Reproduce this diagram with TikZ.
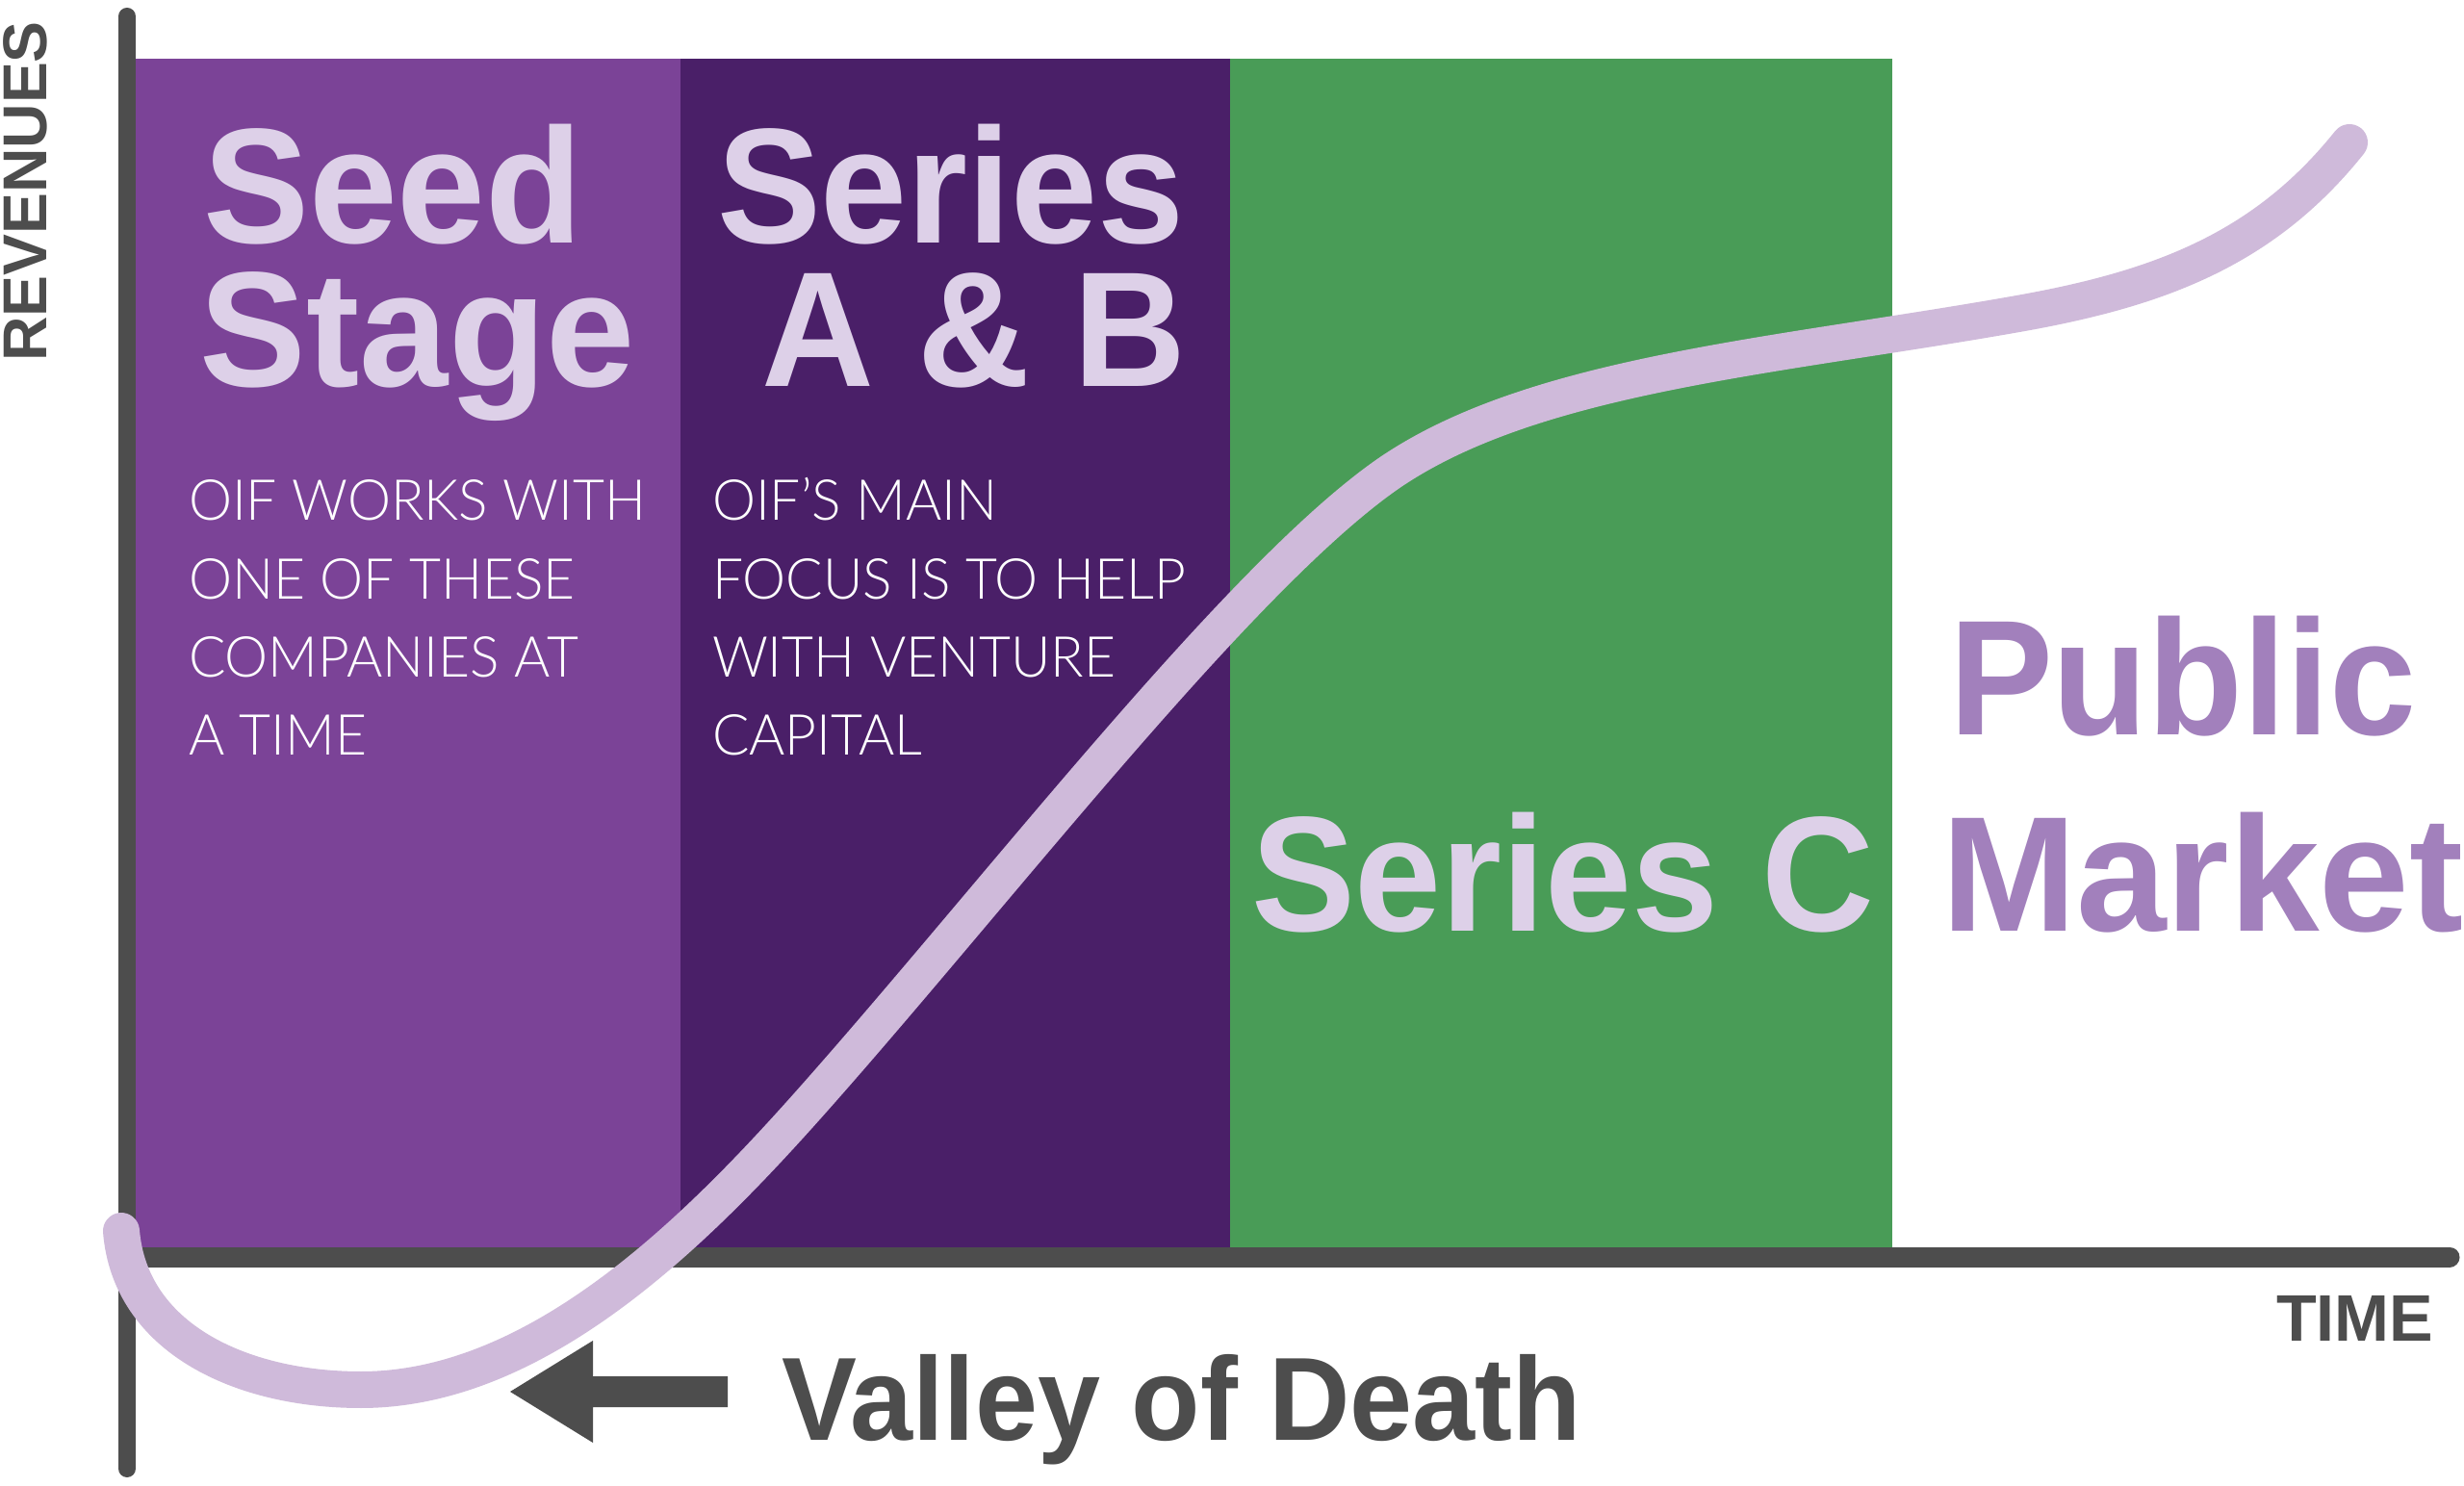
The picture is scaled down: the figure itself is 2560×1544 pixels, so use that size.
\documentclass[tikz,border=0pt]{standalone}
\usepackage{graphicx}
\usepackage{fontspec}
\setmainfont{Liberation Sans}
\newfontfamily\titlefont[FakeStretch=0.95]{Liberation Sans}
\IfFontExistsTF{Lato Light}
  {\newfontfamily\bodyfont[FakeStretch=0.97]{Lato Light}}
  {\newfontfamily\bodyfont[FakeStretch=0.92]{Liberation Sans}}
\newfontfamily\axisfont{Liberation Sans}
\definecolor{seedpurple}{HTML}{7B4397}
\definecolor{abpurple}{HTML}{4A1F68}
\definecolor{cgreen}{HTML}{499C57}
\definecolor{titlelilac}{HTML}{DDD0E8}
\definecolor{curvelilac}{HTML}{CFBADA}
\definecolor{pmpurple}{HTML}{A280BC}
\definecolor{axisgray}{HTML}{4D4D4D}
\tikzset{
  title/.style={inner sep=0pt, outer sep=0pt, text=titlelilac, font=\titlefont\bfseries\fontsize{51.1}{44.7}\selectfont},
  pmtitle/.style={inner sep=0pt, outer sep=0pt, text=pmpurple, font=\titlefont\bfseries\fontsize{51.1}{61.2}\selectfont},
  body/.style={inner sep=0pt, outer sep=0pt, text=white, font=\bodyfont\fontsize{17.6}{24.4}\selectfont},
  axislabel/.style={inner sep=0pt, outer sep=0pt, text=axisgray, font=\axisfont\bfseries\fontsize{#1}{#1}\selectfont},
  valley/.style={inner sep=0pt, outer sep=0pt, text=axisgray, font=\titlefont\bfseries\fontsize{36.9}{44}\selectfont},
  axisline/.style={draw=axisgray, line cap=round},
  curveline/.style={draw=curvelilac, line width=11.4pt, line cap=round},
}
\begin{document}
\begin{tikzpicture}[x=0.3pt, y=-0.3pt]
\useasboundingbox (0,0) rectangle (2560,1544);
\fill[white] (0,0) rectangle (2560,1544);
% stage panels
\fill[seedpurple] (141,61) rectangle (708,1300);
\fill[abpurple] (707,61) rectangle (1279,1300);
\fill[cgreen] (1278,61) rectangle (1966,1300);
% axes
\coordinate (ytop) at (132,17);
\coordinate (ybot) at (132,1526);
\coordinate (xleft) at (132,1306);
\coordinate (xright) at (2545,1306);
\draw[axisline, line width=5.4pt] (ytop) -- (ybot);
\draw[axisline, line width=6.3pt] (xleft) -- (xright);
% growth curve
\draw[curveline] (126,1279) .. controls (135,1390) and (250,1444) .. (375,1444)
  .. controls (580,1444) and (760,1240) .. (882,1100)
  .. controls (1072,881) and (1300,590) .. (1444,491)
  .. controls (1594,389) and (1841,371) .. (2091,327)
  .. controls (2241,301) and (2351,260.5) .. (2441,148);
% titles
\node[title, anchor=base west] (seed) at (211,253)
  {\vtop{\baselineskip=44.7pt\hbox{\scalebox{1.02}[1]{Seed}}\hbox{\kern-0.9pt \scalebox{1.025}[1]{Stage}}}};
\node[title, anchor=base west] (ab) at (745,253)
  {\vtop{\baselineskip=44.7pt\hbox{Series}\hbox{\kern14pt A \& B}}};
\node[title, anchor=base west] (sc) at (1300,968) {Series C};
\node[pmtitle, anchor=base west] (pm) at (2017,764)
  {\vtop{\baselineskip=61.2pt\hbox{\kern2.4pt Public}\hbox{\scalebox{1.04}[1]{Market}}}};
% body text
\node[body, anchor=base west] (body1) at (196,541)
  {\vtop{\baselineskip=24.4pt\hbox{OIF WORKS WITH}\hbox{ONE OF THESE}\hbox{COMPANIES AT}\hbox{A TIME}}};
\node[body, anchor=base west] (body2) at (740,541)
  {\vtop{\baselineskip=24.4pt\hbox{OIF’S MAIN}\hbox{FOCUS IS TO HELP}\hbox{WITH VENTURE}\hbox{CAPITAL}}};
% axis labels
\node[axislabel=19.3, rotate=90, anchor=base west] (rev) at (49,376) {REVENUES};
\node[axislabel=20.5, anchor=base west] (time) at (2365,1393) {TIME};
% valley of death
\node[valley, anchor=base west] (vod) at (812,1496) {Valley of Death};
\fill[axisgray] (530,1446) -- (616,1393) -- (616,1430) -- (756,1430) -- (756,1462) -- (616,1462) -- (616,1499) -- cycle;
\end{tikzpicture}
\end{document}
